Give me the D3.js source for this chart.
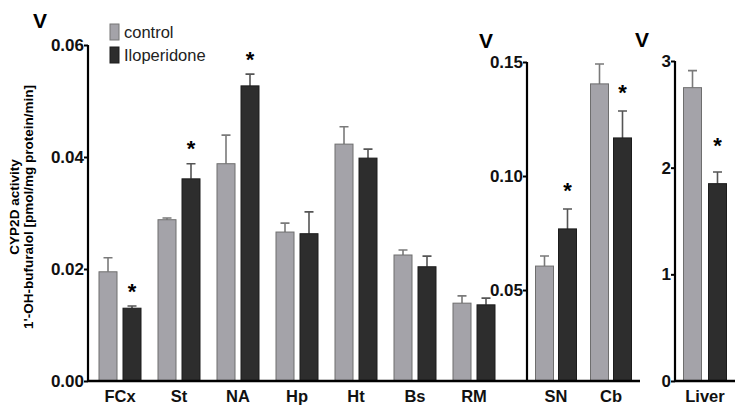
<!DOCTYPE html>
<html><head><meta charset="utf-8">
<script src="https://cdn.jsdelivr.net/npm/d3@7"></script>
<style>body{margin:0;background:#fff}svg{display:block;font-family:"Liberation Sans",Arial,sans-serif}</style>
</head><body><svg width="744" height="409"></svg>
<script>
const series = ["control", "Iloperidone"];
const colors = ["#a4a3a9", "#2d2d2d"];

const cats1 = ["FCx", "St", "NA", "Hp", "Ht", "Bs", "RM"];
const ctrl1 = [0.0195, 0.0288, 0.0388, 0.0266, 0.0423, 0.0225, 0.0139];
const ctrlErr1 = [0.0025, 0.0003, 0.0051, 0.0016, 0.0031, 0.0009, 0.0013];
const ilo1 = [0.0130, 0.0361, 0.0527, 0.0263, 0.0398, 0.0204, 0.0136];
const iloErr1 = [0.0004, 0.0027, 0.0021, 0.0039, 0.0016, 0.0019, 0.0012];
const sig1 = [true, true, true, false, false, false, false];
const ticks1 = [0.00, 0.02, 0.04, 0.06];

const cats2 = ["SN", "Cb"];
const ctrl2 = [0.0605, 0.1404];
const ctrlErr2 = [0.0044, 0.0087];
const ilo2 = [0.0768, 0.1167];
const iloErr2 = [0.0087, 0.0118];
const sig2 = [true, true];
const ticks2 = [0.05, 0.10, 0.15];

const cats3 = ["Liver"];
const ctrl3 = [2.75];
const ctrlErr3 = [0.16];
const ilo3 = [1.85];
const iloErr3 = [0.11];
const sig3 = [true];
const ticks3 = [0, 1, 2, 3];

const svg = d3.select("svg");
const baseY = 381;

function panel(cfg) {
  const g = svg.append("g");
  const y = d3.scaleLinear().domain(cfg.domain).range([baseY, cfg.top]);
  const x = d3.scaleBand().domain(cfg.cats).range(cfg.xr).paddingInner(0).paddingOuter(0);
  const data = cfg.cats.map((c, i) => [
    {c, s: 0, v: cfg.ctrl[i], e: cfg.ctrlErr[i]},
    {c, s: 1, v: cfg.ilo[i], e: cfg.iloErr[i], sig: cfg.sig[i]}
  ]).flat();
  const bw = 18, off = cfg.off;
  const cx = d => x(d.c) + x.bandwidth() / 2 + (d.s === 0 ? -off : off);
  g.selectAll(".err").data(data).enter().append("path")
    .attr("d", d => {
      const x0 = cx(d), yt = y(d.v + d.e), yb = y(d.v);
      return `M${x0},${yb}V${yt}M${x0-4.5},${yt}H${x0+4.5}`;
    })
    .attr("stroke", d => d.s === 0 ? "#7a7a7a" : "#555").attr("stroke-width", 1.6).attr("fill", "none");
  g.selectAll(".bar").data(data).enter().append("rect")
    .attr("x", d => cx(d) - bw / 2).attr("width", bw)
    .attr("y", d => y(d.v)).attr("height", d => baseY - y(d.v))
    .attr("fill", d => colors[d.s])
    .attr("stroke", d => d.s === 0 ? "#6e6e6e" : "#1c1c1c").attr("stroke-width", 1);
  g.selectAll(".star").data(data.filter(d => d.sig)).enter().append("text")
    .attr("x", d => cx(d)).attr("y", d => y(d.v + d.e) - 15 - cfg.starExtra)
    .attr("text-anchor", "middle").attr("font-size", 22).attr("font-weight", "bold")
    .attr("dy", "0.35em").text("*");
  const ya = d3.axisLeft(y).tickValues(cfg.ticks).tickFormat(cfg.fmt).tickSize(4).tickSizeOuter(0);
  const yg = g.append("g").attr("transform", `translate(${cfg.xr0},0)`).call(ya);
  yg.select(".domain").attr("stroke-width", 2.2).attr("d", `M0,${baseY}V${cfg.top}`);
  yg.selectAll(".tick line").attr("stroke-width", 2);
  yg.selectAll(".tick text").attr("font-size", 17).attr("font-weight", "bold").attr("x", -4)
    .attr("font-family", "'Liberation Sans',Arial,sans-serif").attr("fill", "#111");
  const xa = d3.axisBottom(x).tickSize(0).tickSizeOuter(0);
  const xg = g.append("g").attr("transform", `translate(0,${baseY})`).call(xa);
  xg.select(".domain").attr("stroke-width", 2.4).attr("d", `M${cfg.xr0},0H${cfg.xEnd}`);
  xg.selectAll(".tick text").attr("font-size", 16.5).attr("font-weight", "bold").attr("dy", "1.1em")
    .attr("font-family", "'Liberation Sans',Arial,sans-serif").attr("fill", "#111");
  g.append("text").attr("x", cfg.vx).attr("y", cfg.vy).attr("font-size", 21).attr("font-weight", "bold")
    .attr("text-anchor", "middle").text("V");
}

panel({cats: cats1, ctrl: ctrl1, ctrlErr: ctrlErr1, ilo: ilo1, iloErr: iloErr1, sig: sig1,
  domain: [0, 0.06], top: 45, ticks: ticks1, fmt: d3.format(".2f"),
  xr0: 88, xr: [90.5, 503.5], xEnd: 527, off: 12, vx: 40, vy: 28, starExtra: 0});
panel({cats: cats2, ctrl: ctrl2, ctrlErr: ctrlErr2, ilo: ilo2, iloErr: iloErr2, sig: sig2,
  domain: [0.0101, 0.15], top: 62, ticks: ticks2, fmt: d3.format(".2f"),
  xr0: 527, xr: [528.5, 638.5], xEnd: 640, off: 11.5, vx: 486, vy: 48, starExtra: 4});
panel({cats: cats3, ctrl: ctrl3, ctrlErr: ctrlErr3, ilo: ilo3, iloErr: iloErr3, sig: sig3,
  domain: [0, 3], top: 61, ticks: ticks3, fmt: d3.format("d"),
  xr0: 675, xr: [675, 735], xEnd: 735, off: 12.5, vx: 642, vy: 47, starExtra: 12});

const leg = svg.append("g");
series.forEach((s, i) => {
  leg.append("rect").attr("x", 110).attr("y", 24 + i * 23).attr("width", 9).attr("height", 16)
    .attr("fill", colors[i]).attr("stroke", i === 0 ? "#777" : "#1c1c1c").attr("stroke-width", 1);
  leg.append("text").attr("x", 124).attr("y", 38 + i * 23).attr("font-size", 16.5)
    .attr("fill", "#222").text(s);
});

const yt = svg.append("g").attr("transform", "translate(0,207) rotate(-90)");
yt.append("text").attr("x", 0).attr("y", 19).attr("text-anchor", "middle").attr("font-size", 13.5)
  .attr("font-weight", "bold").text("CYP2D activity");
yt.append("text").attr("x", 0).attr("y", 33).attr("text-anchor", "middle").attr("font-size", 13.5)
  .attr("font-weight", "bold").text("1'-OH-bufuralol [pmol/mg protein/min]");
</script></body></html>
